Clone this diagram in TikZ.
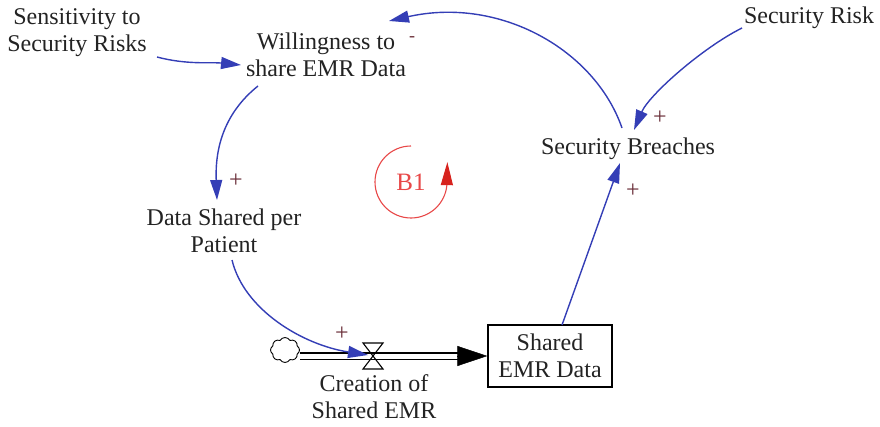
\documentclass[tikz,border=0pt]{standalone}
\usepackage{fontspec}
\setmainfont{Liberation Serif}
\usetikzlibrary{arrows.meta,calc,shapes.symbols}
\definecolor{linkblue}{RGB}{52,62,182}
\definecolor{inkgray}{RGB}{35,35,35}
\definecolor{loopred}{RGB}{232,72,72}
\definecolor{tipred}{RGB}{215,35,30}
\definecolor{signbrown}{RGB}{105,45,55}
\begin{document}
\begin{tikzpicture}[x=1pt,y=1pt,
  lbl/.style={font=\fontsize{24}{27}\selectfont, text=inkgray, align=center, inner sep=0pt},
  sign/.style={font=\fontsize{24}{24}\selectfont, text=signbrown, inner sep=0pt},
  link/.style={draw=linkblue, line width=1.4pt, -{Triangle[length=20pt,width=12pt]}},
  stockbox/.style={lbl, draw=black, line width=1.3pt, minimum width=124pt, minimum height=62pt},
  pipe/.style={draw=black, line width=1.3pt, double=white, double distance=5pt},
  pipehead/.style={draw=black, line width=0.4pt, -{Triangle[length=30pt,width=20pt]}},
  valveshape/.style={draw=black, line width=1.1pt, line join=miter},
  cloudshape/.style={cloud, cloud puffs=8, cloud puff arc=120, aspect=1.2, draw=black,
    line width=0.9pt, minimum width=29pt, minimum height=25pt, inner sep=0pt},
  looparc/.style={draw=loopred, line width=1.1pt, -{Triangle[length=23pt,width=12pt,color=tipred]}}]
\useasboundingbox (0,0) rectangle (880,-427);

% variables
\node[lbl] (sens)   at (77,-33)   {Sensitivity to\\Security Risks};
\node[lbl] (will)   at (326,-55)  {Willingness to\\share EMR Data};
\node[lbl] (risk)   at (809,-18)  {Security Risk};
\node[lbl] (breach) at (628,-149) {Security Breaches};
\node[lbl] (dsp)    at (224,-231) {Data Shared per\\Patient};

% stock and flow
\node[stockbox] (stock) at (550,-356) {Shared\\EMR Data};
\node[cloudshape] (cloud) at (285,-350) {};
\coordinate (valve) at (373,-356);
\draw[pipe] (cloud.east |- valve) -- (valve);
\draw[pipe, shorten >=28pt] (valve) -- (stock.west);
\draw[pipehead] ($(stock.west)+(-30,0)$) -- (stock.west);
\draw[valveshape] ($(valve)+(-10,13)$) -- ($(valve)+(10,13)$)
  -- ($(valve)+(-10,-13)$) -- ($(valve)+(10,-13)$) -- cycle;
\node[lbl] (flowname) at (374,-397) {Creation of\\Shared EMR};

% causal links
\draw[link] ($(sens)+(80,-24)$) .. controls +(30,-8) and +(-30,3) .. ($(will)+(-85,-10)$);
\draw[link] ($(will)+(-68,-31)$) .. controls +(-35,-28) and +(-2,50) .. ($(dsp)+(-7,31)$);
\draw[link] ($(dsp)+(8,-29)$) .. controls +(12,-50) and +(-65,10) .. ($(valve)+(-5,1)$);
\draw[link] ($(stock)+(12,31)$) -- ($(breach)+(-8,-14)$);
\draw[link] ($(risk)+(-67,-10)$) .. controls +(-40,-20) and +(15,35) .. ($(breach)+(6,19)$);
\draw[link] ($(breach)+(-6,21)$) .. controls +(-27,78) and +(111,25) .. ($(will)+(63,34)$);

% polarities
\node[sign] (p1) at (660,-118) {+};
\node[sign] (p2) at (633,-191) {+};
\node[sign] (p3) at (236,-181) {+};
\node[sign] (p4) at (342,-334) {+};
\node[sign, font=\fontsize{18}{18}\selectfont] (m1) at (412,-39) {-};

% balancing loop
\coordinate (loop) at (411,-182);
\draw[looparc] ($(loop)+(90:36)$) arc[start angle=90, end angle=355, radius=36] -- ++(0.5,23);
\node[lbl, text=loopred, font=\fontsize{25}{27}\selectfont] (b1) at (loop) {B1};
\end{tikzpicture}
\end{document}
